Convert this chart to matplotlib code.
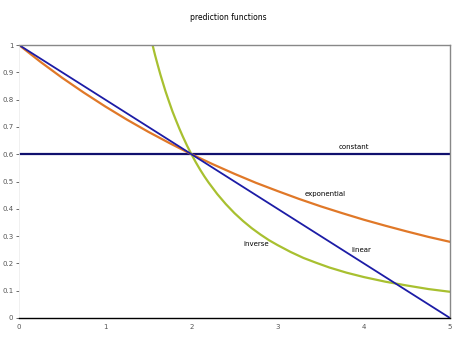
import matplotlib
matplotlib.use("Agg")
import matplotlib.pyplot as plt

title = "prediction functions"

x_line = [0, 5]
y_linear = [1.0, 0.0]
y_constant = [0.6, 0.6]

x_exp = [0, 0.25, 0.5, 0.75, 1, 1.25, 1.5, 1.75, 2, 2.25, 2.5, 2.75, 3,
         3.25, 3.5, 3.75, 4, 4.25, 4.5, 4.75, 5]
y_exp = [1.0, 0.938, 0.880, 0.826, 0.775, 0.727, 0.682, 0.640, 0.600, 0.563,
         0.528, 0.495, 0.465, 0.436, 0.409, 0.384, 0.360, 0.338, 0.317, 0.297, 0.279]

x_inv = [1.55, 1.58, 1.61, 1.64, 1.67, 1.70, 1.74, 1.78, 1.82, 1.86, 1.90, 1.95,
         2.0, 2.05, 2.1, 2.15, 2.2, 2.3, 2.4, 2.5, 2.6, 2.7, 2.8, 2.9, 3.0,
         3.15, 3.3, 3.45, 3.6, 3.8, 4.0, 4.25, 4.5, 4.75, 5]
y_inv = [0.999, 0.961, 0.926, 0.892, 0.861, 0.830, 0.793, 0.757, 0.725, 0.694,
         0.665, 0.631, 0.600, 0.571, 0.544, 0.519, 0.496, 0.454, 0.417, 0.384,
         0.355, 0.329, 0.306, 0.285, 0.267, 0.242, 0.220, 0.202, 0.185, 0.166,
         0.150, 0.133, 0.119, 0.106, 0.096]

x_ticks = [0, 1, 2, 3, 4, 5]
y_ticks = [0, 0.1, 0.2, 0.3, 0.4, 0.5, 0.6, 0.7, 0.8, 0.9, 1]
y_tick_labels = ["0", "0.1", "0.2", "0.3", "0.4", "0.5", "0.6", "0.7", "0.8", "0.9", "1"]

fig = plt.figure(figsize=(4.6, 3.45), dpi=100)
ax = fig.add_axes([19/460, 1-318/345, (450-19)/460, (318-45)/345])

ax.plot(x_line, y_constant, color="#10106e", lw=1.6)
ax.plot(x_exp, y_exp, color="#e07828", lw=1.6)
ax.plot(x_inv, y_inv, color="#a8c030", lw=1.6)
ax.plot(x_line, y_linear, color="#1c1ca6", lw=1.3)

ax.set_xlim(0, 5)
ax.set_ylim(0, 1)
ax.set_xticks(x_ticks)
ax.set_xticklabels([str(v) for v in x_ticks])
ax.set_yticks(y_ticks)
ax.set_yticklabels(y_tick_labels)
ax.tick_params(axis="both", labelsize=5, colors="#555555", length=2, width=0.6, pad=2)
ax.tick_params(axis="x", length=0, pad=4)

for s in ["top", "right"]:
    ax.spines[s].set_color("#888888")
    ax.spines[s].set_linewidth(1.0)
ax.spines["left"].set_color("#eeeeee")
ax.spines["left"].set_linewidth(0.6)
ax.spines["bottom"].set_color("black")
ax.spines["bottom"].set_linewidth(1.0)

fig.text(228/460, 1-17/345, title, ha="center", va="center", fontsize=5.5)

ax.text(3.88, 0.625, "constant", fontsize=5, ha="center", va="center")
ax.text(3.55, 0.455, "exponential", fontsize=5, ha="center", va="center")
ax.text(3.97, 0.25, "linear", fontsize=5, ha="center", va="center")
ax.text(2.75, 0.27, "inverse", fontsize=5, ha="center", va="center")

fig.savefig("out.png", dpi=100)
